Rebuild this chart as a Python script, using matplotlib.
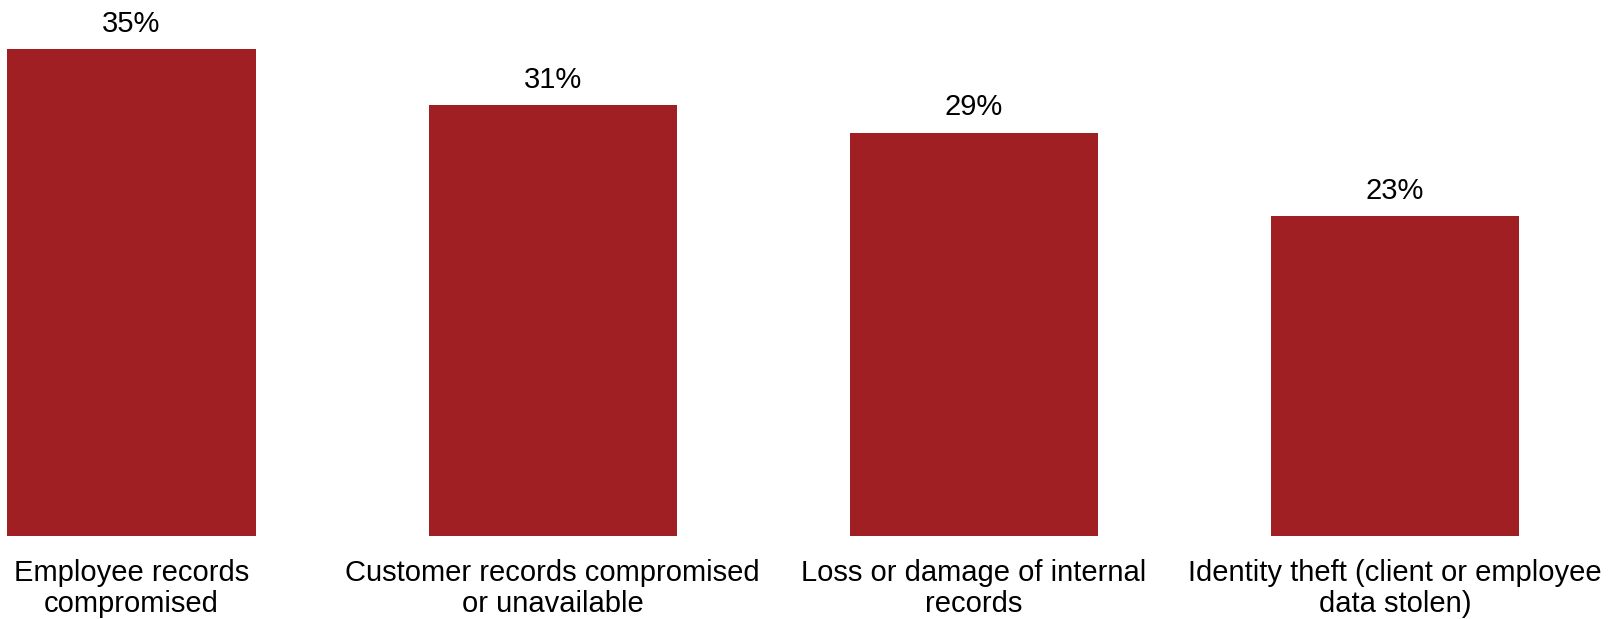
import matplotlib.pyplot as plt

categories = ['Employee records\ncompromised',
              'Customer records compromised\nor unavailable',
              'Loss or damage of internal\nrecords',
              'Identity theft (client or employee\ndata stolen)']
shares = [35, 31, 29, 23]

plt.rcParams['font.family'] = ['Liberation Sans', 'DejaVu Sans']

fig = plt.figure(figsize=(16.19, 6.19), dpi=100)
ax = fig.add_axes([0, 0.1346, 1, 0.8654])

x = range(len(categories))
bars = ax.bar(x, shares, width=0.589, color='#A01F22')

for b, v in zip(bars, shares):
    ax.annotate(f'{v}%', (b.get_x() + b.get_width() / 2, v),
                xytext=(0, 8), textcoords='offset points',
                ha='center', va='bottom', fontsize=21)

ax.set_xlim(-0.3123, 3.5325)
ax.set_ylim(0, 38.54)
ax.set_xticks(list(x))
ax.set_xticklabels(categories, fontsize=21, linespacing=1.15)
ax.tick_params(axis='x', length=0, pad=16.5)
ax.set_yticks([])
for s in ax.spines.values():
    s.set_visible(False)

fig.savefig('out.png', dpi=100)
